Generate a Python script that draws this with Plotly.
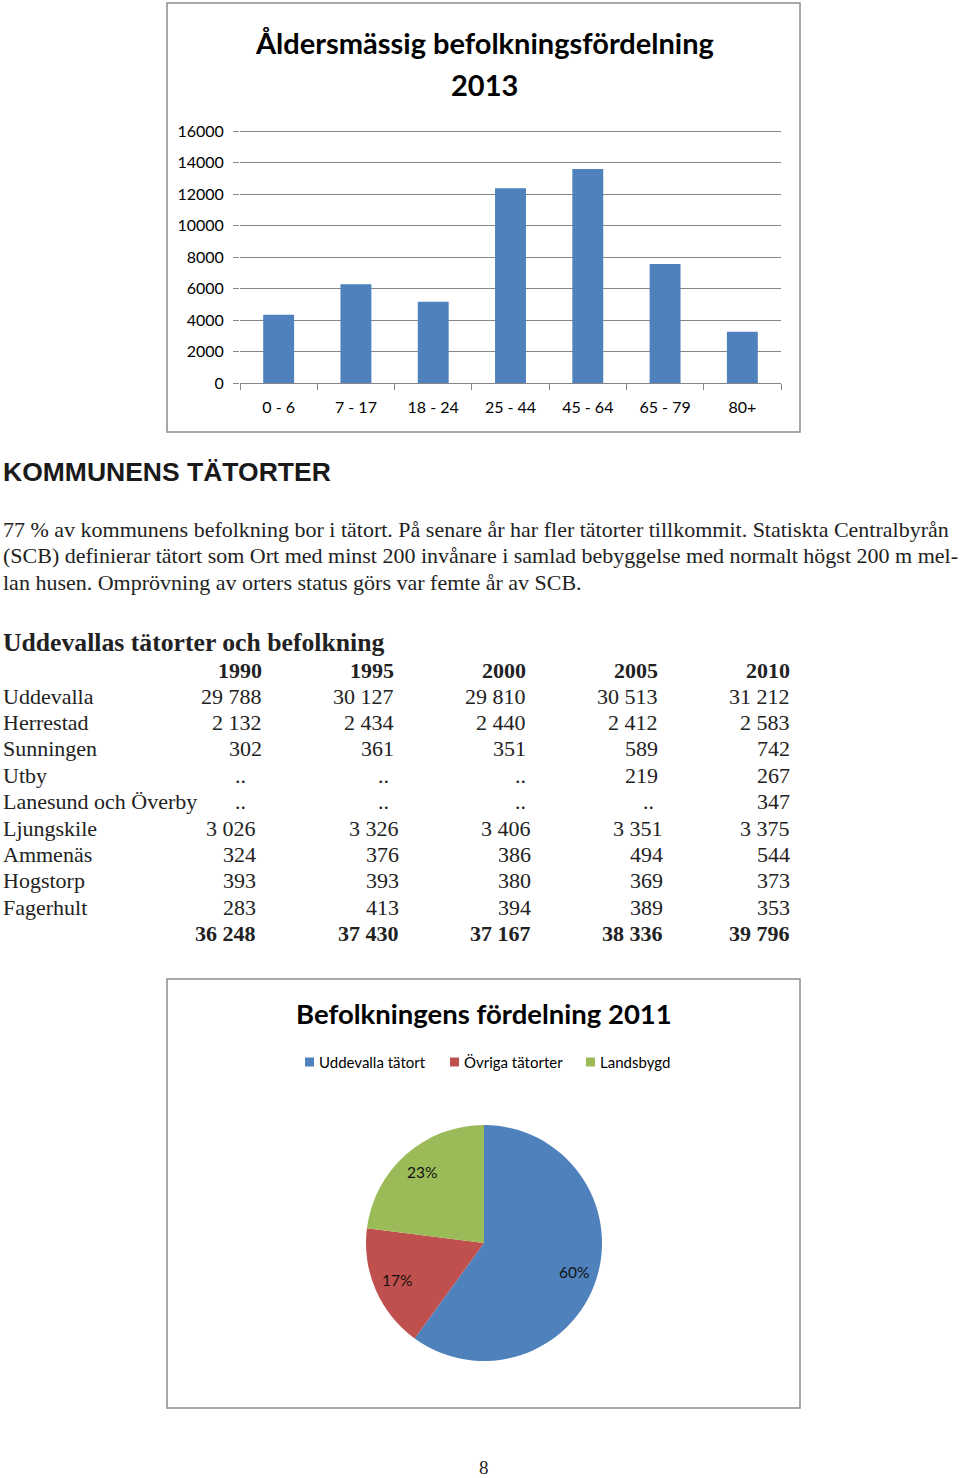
import math
import plotly.graph_objects as go

W, H = 960, 1478

# ---------------- data ----------------
age_groups = ["0 - 6", "7 - 17", "18 - 24", "25 - 44", "45 - 64", "65 - 79", "80+"]
age_pop = [4340, 6265, 5165, 12360, 13590, 7555, 3260]

pie_labels = ["Uddevalla tätort", "Övriga tätorter", "Landsbygd"]
pie_values = [60, 17, 23]
pie_colors = ["#4F81BD", "#C0504D", "#9BBB59"]

table_years = ["1990", "1995", "2000", "2005", "2010"]
table_places = ["Uddevalla", "Herrestad", "Sunningen", "Utby", "Lanesund och Överby",
                "Ljungskile", "Ammenäs", "Hogstorp", "Fagerhult"]
table_values = [
    ["29 788", "30 127", "29 810", "30 513", "31 212"],
    ["2 132", "2 434", "2 440", "2 412", "2 583"],
    ["302", "361", "351", "589", "742"],
    ["..", "..", "..", "219", "267"],
    ["..", "..", "..", "..", "347"],
    ["3 026", "3 326", "3 406", "3 351", "3 375"],
    ["324", "376", "386", "494", "544"],
    ["393", "393", "380", "369", "373"],
    ["283", "413", "394", "389", "353"],
]
table_totals = ["36 248", "37 430", "37 167", "38 336", "39 796"]

paragraph_lines = [
    "77 % av kommunens befolkning bor i tätort. På senare år har fler tätorter tillkommit. Statiskta Centralbyrån",
    "(SCB) definierar tätort som Ort med minst 200 invånare i samlad bebyggelse med normalt högst 200 m mel-",
    "lan husen. Omprövning av orters status görs var femte år av SCB.",
]

# ---------------- helpers ----------------
def px(x):
    return x / W

def py(y):
    return 1 - y / H

SANS = "Lato"
SERIF = "Liberation Serif"
BLUE = "#4F81BD"
GRID = "#868686"
TXT = "#222"

fig = go.Figure()

# ---------------- bar chart ----------------
fig.add_trace(go.Bar(
    x=age_groups, y=age_pop, marker=dict(color=BLUE, line=dict(width=0)),
    xaxis="x", yaxis="y", showlegend=False, hoverinfo="x+y",
))

# ---------------- pie chart ----------------
cx, cy, r = 484, 1243, 118
fig.add_trace(go.Pie(
    labels=pie_labels, values=pie_values, sort=False, direction="clockwise", rotation=0,
    marker=dict(colors=pie_colors, line=dict(width=0)),
    textinfo="none",
    domain=dict(x=[px(cx - r), px(cx + r)], y=[py(cy + r), py(cy - r)]),
    showlegend=False, hole=0,
))

annotations = []
shapes = []

# chart frames
for (x0, y0, x1, y1) in [(167, 3, 800, 432), (167, 979, 800, 1408)]:
    shapes.append(dict(type="rect", xref="paper", yref="paper",
                       x0=px(x0), x1=px(x1), y0=py(y0), y1=py(y1),
                       line=dict(color="#8c8c8c", width=1.5), fillcolor="rgba(0,0,0,0)", layer="below"))

def ann(text, x, y, size, family=SANS, bold=False, xanchor="left", color="#000"):
    t = f"<b>{text}</b>" if bold else text
    annotations.append(dict(text=t, x=px(x), y=py(y), xref="paper", yref="paper",
                            xanchor=xanchor, yanchor="middle", showarrow=False,
                            font=dict(family=family, size=size, color=color)))

# bar chart title
ann("Åldersmässig befolkningsfördelning", 484, 42, 29, bold=True, xanchor="center")
ann("2013", 484, 85, 29, bold=True, xanchor="center")

# heading
ann("KOMMUNENS TÄTORTER", 1, 472, 26.5, family="Liberation Sans", bold=True, color="#1a1a1a")

# paragraph
for i, line in enumerate(paragraph_lines):
    ann(line, 1, 529 + i * 26.5, 22, family=SERIF, color=TXT)

# table
ann("Uddevallas tätorter och befolkning", 1, 642, 25.7, family=SERIF, bold=True, color=TXT)
right_top = [264, 396, 528, 660, 792]
right_low = [258, 401, 533, 665, 792]
dots_x = [240, 383, 520, 648, 780]
for j, yr in enumerate(table_years):
    ann(yr, right_top[j], 670, 22, family=SERIF, bold=True, xanchor="right", color=TXT)
row_y0, row_dy = 696, 26.4
for i, place in enumerate(table_places):
    yy = row_y0 + i * row_dy
    ann(place, 1, yy, 22, family=SERIF, color=TXT)
    for j, v in enumerate(table_values[i]):
        if v == "..":
            ann(v, dots_x[j], yy, 22, family=SERIF, xanchor="center", color=TXT)
        else:
            xr = right_top[j] if i < 5 else right_low[j]
            ann(v, xr, yy, 22, family=SERIF, xanchor="right", color=TXT)
for j, v in enumerate(table_totals):
    ann(v, right_low[j], row_y0 + len(table_places) * row_dy, 22, family=SERIF, bold=True,
        xanchor="right", color=TXT)

# pie title + legend
ann("Befolkningens fördelning 2011", 484, 1013, 27.5, bold=True, xanchor="center")
leg_x = [305, 450, 586]
for k, lab in enumerate(pie_labels):
    shapes.append(dict(type="rect", xref="paper", yref="paper",
                       x0=px(leg_x[k]), x1=px(leg_x[k] + 9), y0=py(1066.5), y1=py(1057.5),
                       fillcolor=pie_colors[k], line=dict(width=0)))
    ann(lab, leg_x[k] + 12, 1062, 15, xanchor="left")

# pie percentage labels, placed at each slice's mid-angle
total = sum(pie_values)
acc = 0
for v in pie_values:
    mid = (acc + v / 2) / total * 2 * math.pi
    acc += v
    lx = cx + 0.8 * r * math.sin(mid)
    ly = cy - 0.8 * r * math.cos(mid)
    ann(f"{round(v / total * 100)}%", lx, ly, 15.5, xanchor="center", color="#111")

# page number
ann("8", 484, 1467, 19, family=SERIF, xanchor="center", color=TXT)

# y axis: plot area extends 4px above the top gridline so that it is drawn
y_top_px, y_zero_px, y_max = 127, 383, 16000
y_range_top = y_max * (y_zero_px - y_top_px) / (y_zero_px - 131)

fig.update_layout(
    width=W, height=H, autosize=False,
    margin=dict(l=0, r=0, t=0, b=0, pad=0, autoexpand=False),
    paper_bgcolor="white", plot_bgcolor="white",
    bargap=0.6,
    xaxis=dict(domain=[px(240), px(781)], anchor="y", type="category",
               showline=True, linecolor=GRID, linewidth=1,
               ticks="outside", tickson="boundaries", ticklen=6, tickcolor=GRID,
               showgrid=False, tickfont=dict(family=SANS, size=16, color="#000"),
               ticklabelstandoff=10, fixedrange=True, automargin=False),
    yaxis=dict(domain=[py(y_zero_px), py(y_top_px)], anchor="x", range=[0, y_range_top],
               tickvals=list(range(0, y_max + 1, 2000)), tickformat="d",
               showgrid=True, gridcolor=GRID, gridwidth=1, zeroline=False,
               showline=False, ticks="outside", ticklen=6, tickcolor=GRID,
               tickfont=dict(family=SANS, size=16, color="#000"),
               ticklabelstandoff=6, fixedrange=True, automargin=False),
    annotations=annotations,
    shapes=shapes,
)

fig.write_html("out.html", config={"displayModeBar": False},
               post_script="document.body.style.margin='0';")
